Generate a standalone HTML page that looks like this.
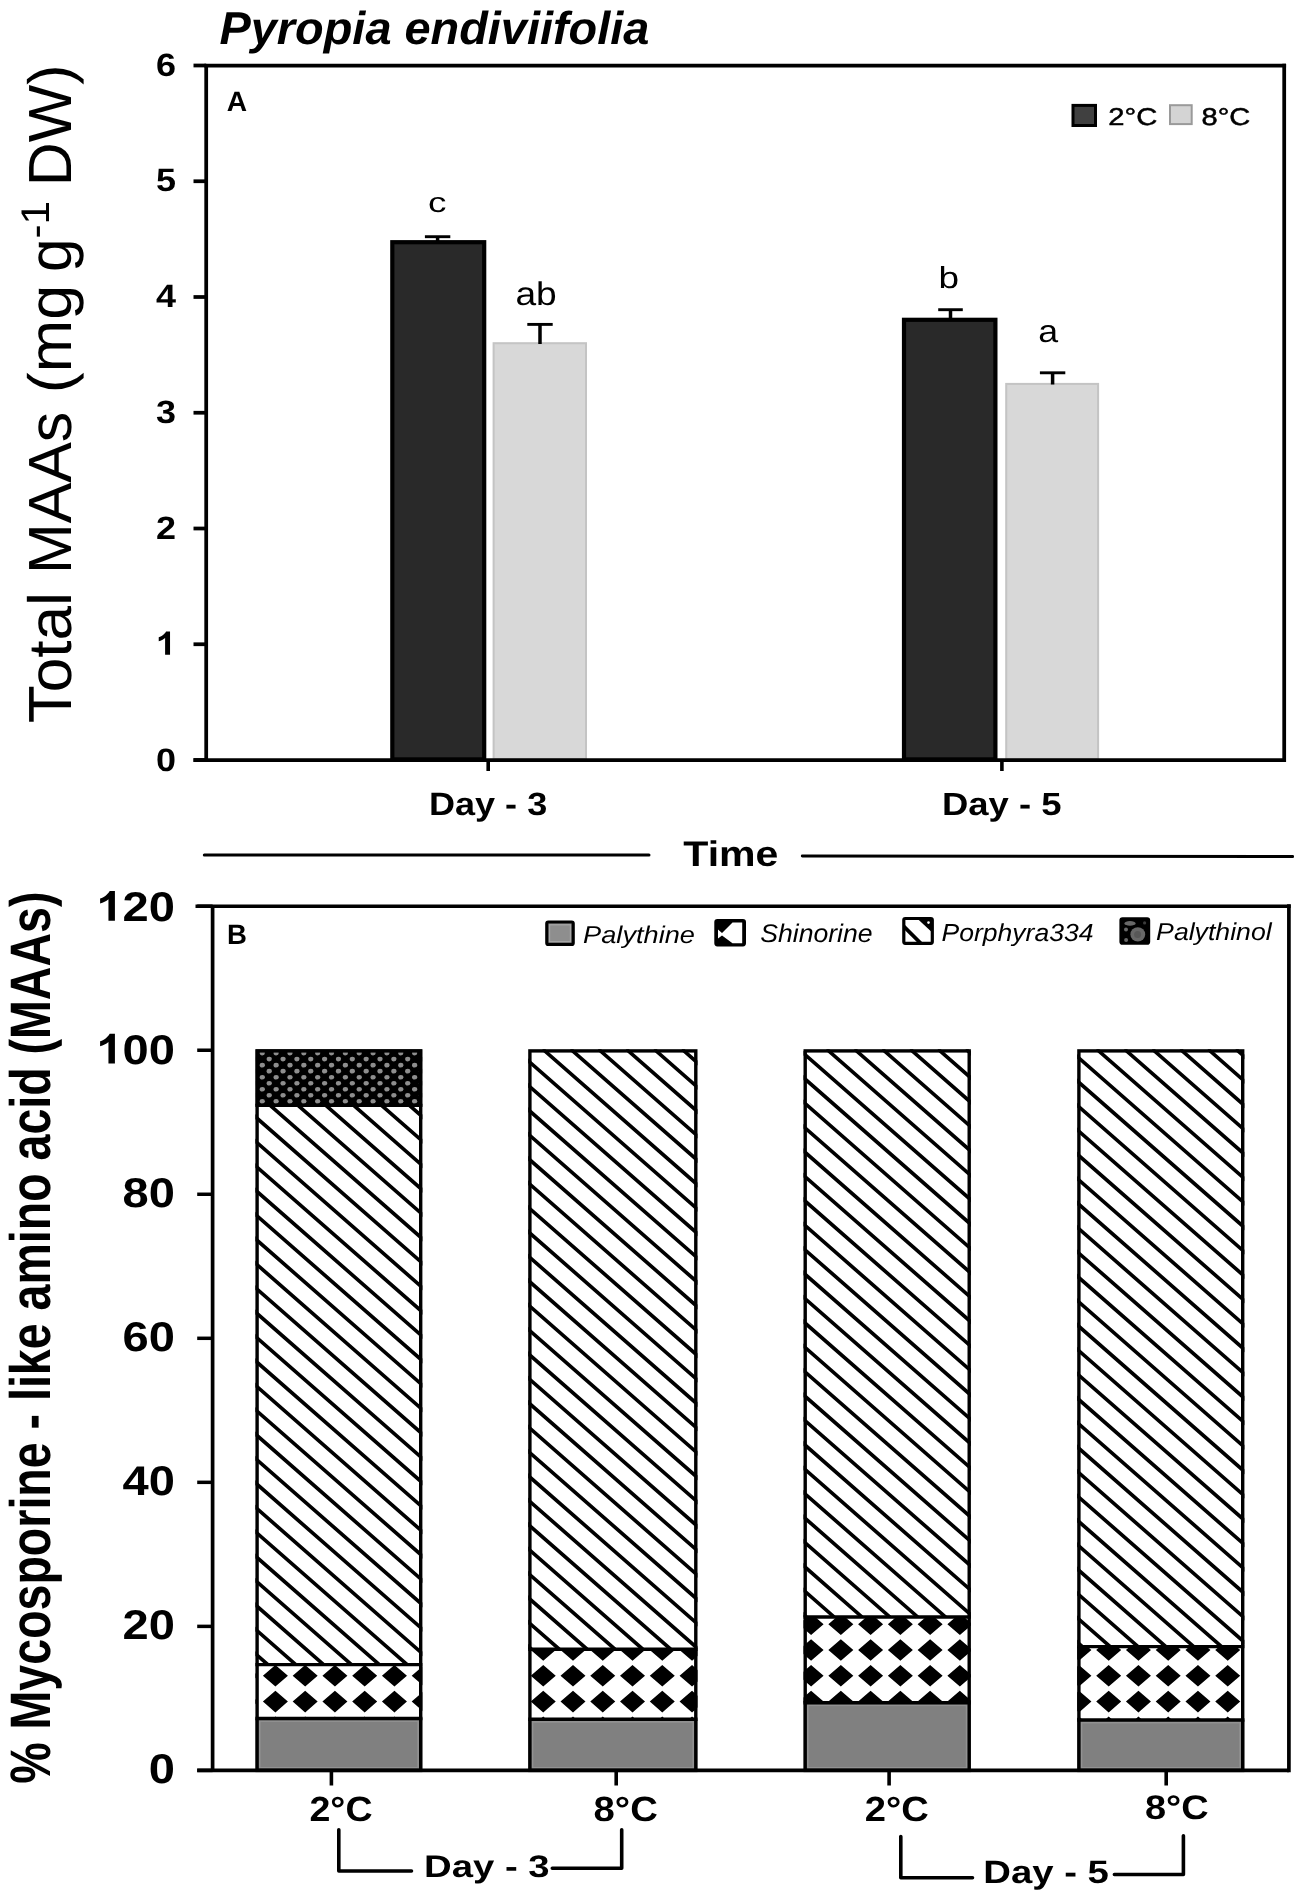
<!DOCTYPE html>
<html><head><meta charset="utf-8"><title>Pyropia endiviifolia MAAs</title>
<style>html,body{margin:0;padding:0;background:#fff;overflow:hidden;}svg{display:block;filter:blur(0.4px);}text{text-rendering:geometricPrecision;}</style></head>
<body><svg width="1299" height="1898" viewBox="0 0 1299 1898">
<defs><clipPath id="c1"><rect x="255.40" y="1664.60" width="167.00" height="53.90"/></clipPath><clipPath id="c2"><rect x="255.40" y="1105.40" width="167.00" height="559.20"/></clipPath><clipPath id="c3"><rect x="255.40" y="1049.20" width="167.00" height="56.20"/></clipPath><clipPath id="c4"><rect x="528.20" y="1649.20" width="169.30" height="70.10"/></clipPath><clipPath id="c5"><rect x="528.20" y="1049.20" width="169.30" height="600.00"/></clipPath><clipPath id="c6"><rect x="803.50" y="1617.00" width="167.40" height="85.70"/></clipPath><clipPath id="c7"><rect x="803.50" y="1049.20" width="167.40" height="567.80"/></clipPath><clipPath id="c8"><rect x="1077.20" y="1646.60" width="167.20" height="73.40"/></clipPath><clipPath id="c9"><rect x="1077.20" y="1049.20" width="167.20" height="597.40"/></clipPath></defs>
<rect width="1299" height="1898" fill="#fff"/>
<text transform="translate(70.58,723.29) rotate(-90)" font-family="&quot;Liberation Sans&quot;, sans-serif" font-size="60.96" textLength="131.01" lengthAdjust="spacingAndGlyphs">Total</text>
<text transform="translate(70.58,574.01) rotate(-90)" font-family="&quot;Liberation Sans&quot;, sans-serif" font-size="60.96" textLength="162.19" lengthAdjust="spacingAndGlyphs">MAAs</text>
<text transform="translate(70.58,393.28) rotate(-90)" font-family="&quot;Liberation Sans&quot;, sans-serif" font-size="60.96" textLength="108.55" lengthAdjust="spacingAndGlyphs">(mg</text>
<text transform="translate(70.58,272.05) rotate(-90)" font-family="&quot;Liberation Sans&quot;, sans-serif" font-size="60.96" textLength="33.66" lengthAdjust="spacingAndGlyphs">g</text>
<text transform="translate(49.48,238.55) rotate(-90)" font-family="&quot;Liberation Sans&quot;, sans-serif" font-size="40.00" textLength="37.54" lengthAdjust="spacingAndGlyphs">-1</text>
<text transform="translate(70.58,186.17) rotate(-90)" font-family="&quot;Liberation Sans&quot;, sans-serif" font-size="60.96" textLength="121.83" lengthAdjust="spacingAndGlyphs">DW)</text>
<rect x="392.30" y="242.20" width="91.90" height="517.20" fill="#292929" stroke="#000" stroke-width="4.2" />
<rect x="493.60" y="343.20" width="92.40" height="415.80" fill="#d8d8d8" stroke="#c4c4c4" stroke-width="2" />
<rect x="904.00" y="319.80" width="91.40" height="439.60" fill="#292929" stroke="#000" stroke-width="4.2" />
<rect x="1006.20" y="383.90" width="91.90" height="375.10" fill="#d8d8d8" stroke="#c4c4c4" stroke-width="2" />
<line x1="424.90" y1="236.70" x2="450.30" y2="236.70" stroke="#000" stroke-width="2.9" stroke-linecap="butt"/>
<line x1="437.60" y1="236.70" x2="437.60" y2="241.10" stroke="#000" stroke-width="3.5" stroke-linecap="butt"/>
<line x1="527.30" y1="324.40" x2="552.70" y2="324.40" stroke="#000" stroke-width="2.9" stroke-linecap="butt"/>
<line x1="540.00" y1="324.40" x2="540.00" y2="344.00" stroke="#000" stroke-width="3.5" stroke-linecap="butt"/>
<line x1="938.20" y1="309.70" x2="962.80" y2="309.70" stroke="#000" stroke-width="2.9" stroke-linecap="butt"/>
<line x1="950.50" y1="309.70" x2="950.50" y2="318.70" stroke="#000" stroke-width="3.5" stroke-linecap="butt"/>
<line x1="1039.90" y1="372.80" x2="1065.30" y2="372.80" stroke="#000" stroke-width="2.9" stroke-linecap="butt"/>
<line x1="1052.60" y1="372.80" x2="1052.60" y2="384.50" stroke="#000" stroke-width="3.5" stroke-linecap="butt"/>
<line x1="206.20" y1="65.50" x2="1284.20" y2="65.50" stroke="#000" stroke-width="3.75" stroke-linecap="square"/>
<line x1="1284.20" y1="65.50" x2="1284.20" y2="760.00" stroke="#000" stroke-width="3.75" stroke-linecap="square"/>
<line x1="193.50" y1="760.00" x2="1284.20" y2="760.00" stroke="#000" stroke-width="3.75" stroke-linecap="butt"/>
<line x1="206.20" y1="65.50" x2="206.20" y2="760.00" stroke="#000" stroke-width="3.75" stroke-linecap="butt"/>
<line x1="193.50" y1="760.00" x2="206.20" y2="760.00" stroke="#000" stroke-width="3.75" stroke-linecap="butt"/>
<text x="155.90" y="770.70" font-family="&quot;Liberation Sans&quot;, sans-serif" font-size="32.40" font-weight="bold" textLength="20.00" lengthAdjust="spacingAndGlyphs">0</text>
<line x1="193.50" y1="644.25" x2="206.20" y2="644.25" stroke="#000" stroke-width="3.75" stroke-linecap="butt"/>
<path d="M805 0H524V1059C420 962 300 890 161 846V1101C271 1137 340 1180 400 1237C480 1310 545 1390 577 1466H805Z" transform="translate(155.90,654.65) scale(0.01756,-0.01582)"/>
<line x1="193.50" y1="528.50" x2="206.20" y2="528.50" stroke="#000" stroke-width="3.75" stroke-linecap="butt"/>
<text x="155.90" y="538.90" font-family="&quot;Liberation Sans&quot;, sans-serif" font-size="32.40" font-weight="bold" textLength="20.00" lengthAdjust="spacingAndGlyphs">2</text>
<line x1="193.50" y1="412.75" x2="206.20" y2="412.75" stroke="#000" stroke-width="3.75" stroke-linecap="butt"/>
<text x="155.90" y="423.15" font-family="&quot;Liberation Sans&quot;, sans-serif" font-size="32.40" font-weight="bold" textLength="20.00" lengthAdjust="spacingAndGlyphs">3</text>
<line x1="193.50" y1="297.00" x2="206.20" y2="297.00" stroke="#000" stroke-width="3.75" stroke-linecap="butt"/>
<text x="155.90" y="306.90" font-family="&quot;Liberation Sans&quot;, sans-serif" font-size="32.40" font-weight="bold" textLength="20.00" lengthAdjust="spacingAndGlyphs">4</text>
<line x1="193.50" y1="181.25" x2="206.20" y2="181.25" stroke="#000" stroke-width="3.75" stroke-linecap="butt"/>
<text x="155.90" y="190.70" font-family="&quot;Liberation Sans&quot;, sans-serif" font-size="32.40" font-weight="bold" textLength="20.00" lengthAdjust="spacingAndGlyphs">5</text>
<line x1="193.50" y1="65.50" x2="206.20" y2="65.50" stroke="#000" stroke-width="3.75" stroke-linecap="butt"/>
<text x="155.90" y="76.40" font-family="&quot;Liberation Sans&quot;, sans-serif" font-size="32.40" font-weight="bold" textLength="20.00" lengthAdjust="spacingAndGlyphs">6</text>
<line x1="488.20" y1="760.00" x2="488.20" y2="771.00" stroke="#000" stroke-width="3.6" stroke-linecap="butt"/>
<line x1="1001.90" y1="760.00" x2="1001.90" y2="771.00" stroke="#000" stroke-width="3.6" stroke-linecap="butt"/>
<text id="t_title" x="219.56" y="43.88" font-family="&quot;Liberation Sans&quot;, sans-serif" font-size="46.09" font-weight="bold" font-style="italic" xml:space="preserve" textLength="429.74" lengthAdjust="spacingAndGlyphs">Pyropia endiviifolia</text>
<text id="t_A" x="226.71" y="110.62" font-family="&quot;Liberation Sans&quot;, sans-serif" font-size="28.05" font-weight="bold" font-style="normal" xml:space="preserve" textLength="20.36" lengthAdjust="spacingAndGlyphs">A</text>
<text id="t_c" x="427.91" y="212.07" font-family="&quot;Liberation Sans&quot;, sans-serif" font-size="28.03" font-weight="normal" font-style="normal" xml:space="preserve" textLength="18.46" lengthAdjust="spacingAndGlyphs">c</text>
<text id="t_ab" x="515.47" y="305.47" font-family="&quot;Liberation Sans&quot;, sans-serif" font-size="32.91" font-weight="normal" font-style="normal" xml:space="preserve" textLength="41.29" lengthAdjust="spacingAndGlyphs">ab</text>
<text id="t_b" x="938.52" y="288.42" font-family="&quot;Liberation Sans&quot;, sans-serif" font-size="30.45" font-weight="normal" font-style="normal" xml:space="preserve" textLength="20.52" lengthAdjust="spacingAndGlyphs">b</text>
<text id="t_a" x="1038.30" y="342.37" font-family="&quot;Liberation Sans&quot;, sans-serif" font-size="31.62" font-weight="normal" font-style="normal" xml:space="preserve" textLength="19.88" lengthAdjust="spacingAndGlyphs">a</text>
<text id="t_l2C" x="1108.36" y="124.64" font-family="&quot;Liberation Sans&quot;, sans-serif" font-size="24.24" font-weight="normal" font-style="normal" xml:space="preserve" textLength="48.99" lengthAdjust="spacingAndGlyphs" stroke="#000" stroke-width="0.5">2°C</text>
<text id="t_l8C" x="1201.54" y="124.64" font-family="&quot;Liberation Sans&quot;, sans-serif" font-size="24.24" font-weight="normal" font-style="normal" xml:space="preserve" textLength="48.77" lengthAdjust="spacingAndGlyphs" stroke="#000" stroke-width="0.5">8°C</text>
<text id="t_day3" x="428.94" y="814.92" font-family="&quot;Liberation Sans&quot;, sans-serif" font-size="32.18" font-weight="bold" font-style="normal" xml:space="preserve" textLength="118.26" lengthAdjust="spacingAndGlyphs">Day - 3</text>
<text id="t_day5" x="942.02" y="814.93" font-family="&quot;Liberation Sans&quot;, sans-serif" font-size="32.14" font-weight="bold" font-style="normal" xml:space="preserve" textLength="119.51" lengthAdjust="spacingAndGlyphs">Day - 5</text>
<text id="t_time" x="683.29" y="865.56" font-family="&quot;Liberation Sans&quot;, sans-serif" font-size="35.70" font-weight="bold" font-style="normal" xml:space="preserve" textLength="95.20" lengthAdjust="spacingAndGlyphs">Time</text>
<rect x="1073.00" y="105.40" width="22.50" height="20.10" fill="#404040" stroke="#000" stroke-width="3" />
<rect x="1170.00" y="105.20" width="21.70" height="18.90" fill="#d4d4d4" stroke="#9a9a9a" stroke-width="2" />
<line x1="204.30" y1="855.00" x2="649.00" y2="855.00" stroke="#000" stroke-width="3.0" stroke-linecap="round"/>
<line x1="802.30" y1="856.00" x2="1292.60" y2="856.50" stroke="#000" stroke-width="3.0" stroke-linecap="round"/>
<rect x="255.40" y="1718.50" width="167.00" height="51.90" fill="#808080" stroke="none" stroke-width="0" />
<rect x="259.70" y="1721.10" width="158.40" height="46.70" fill="none" stroke="#929292" stroke-width="1.6" />
<g clip-path="url(#c1)"><rect x="255.40" y="1664.60" width="167.00" height="53.90" fill="#fff"/><path d="M203.38 1650.00L215.88 1639.20L228.38 1650.00L215.88 1660.80ZM203.38 1675.80L215.88 1665.00L228.38 1675.80L215.88 1686.60ZM203.38 1701.60L215.88 1690.80L228.38 1701.60L215.88 1712.40ZM203.38 1727.40L215.88 1716.60L228.38 1727.40L215.88 1738.20ZM203.38 1753.20L215.88 1742.40L228.38 1753.20L215.88 1764.00ZM233.14 1650.00L245.64 1639.20L258.14 1650.00L245.64 1660.80ZM233.14 1675.80L245.64 1665.00L258.14 1675.80L245.64 1686.60ZM233.14 1701.60L245.64 1690.80L258.14 1701.60L245.64 1712.40ZM233.14 1727.40L245.64 1716.60L258.14 1727.40L245.64 1738.20ZM233.14 1753.20L245.64 1742.40L258.14 1753.20L245.64 1764.00ZM262.90 1650.00L275.40 1639.20L287.90 1650.00L275.40 1660.80ZM262.90 1675.80L275.40 1665.00L287.90 1675.80L275.40 1686.60ZM262.90 1701.60L275.40 1690.80L287.90 1701.60L275.40 1712.40ZM262.90 1727.40L275.40 1716.60L287.90 1727.40L275.40 1738.20ZM262.90 1753.20L275.40 1742.40L287.90 1753.20L275.40 1764.00ZM292.66 1650.00L305.16 1639.20L317.66 1650.00L305.16 1660.80ZM292.66 1675.80L305.16 1665.00L317.66 1675.80L305.16 1686.60ZM292.66 1701.60L305.16 1690.80L317.66 1701.60L305.16 1712.40ZM292.66 1727.40L305.16 1716.60L317.66 1727.40L305.16 1738.20ZM292.66 1753.20L305.16 1742.40L317.66 1753.20L305.16 1764.00ZM322.42 1650.00L334.92 1639.20L347.42 1650.00L334.92 1660.80ZM322.42 1675.80L334.92 1665.00L347.42 1675.80L334.92 1686.60ZM322.42 1701.60L334.92 1690.80L347.42 1701.60L334.92 1712.40ZM322.42 1727.40L334.92 1716.60L347.42 1727.40L334.92 1738.20ZM322.42 1753.20L334.92 1742.40L347.42 1753.20L334.92 1764.00ZM352.18 1650.00L364.68 1639.20L377.18 1650.00L364.68 1660.80ZM352.18 1675.80L364.68 1665.00L377.18 1675.80L364.68 1686.60ZM352.18 1701.60L364.68 1690.80L377.18 1701.60L364.68 1712.40ZM352.18 1727.40L364.68 1716.60L377.18 1727.40L364.68 1738.20ZM352.18 1753.20L364.68 1742.40L377.18 1753.20L364.68 1764.00ZM381.94 1650.00L394.44 1639.20L406.94 1650.00L394.44 1660.80ZM381.94 1675.80L394.44 1665.00L406.94 1675.80L394.44 1686.60ZM381.94 1701.60L394.44 1690.80L406.94 1701.60L394.44 1712.40ZM381.94 1727.40L394.44 1716.60L406.94 1727.40L394.44 1738.20ZM381.94 1753.20L394.44 1742.40L406.94 1753.20L394.44 1764.00ZM411.70 1650.00L424.20 1639.20L436.70 1650.00L424.20 1660.80ZM411.70 1675.80L424.20 1665.00L436.70 1675.80L424.20 1686.60ZM411.70 1701.60L424.20 1690.80L436.70 1701.60L424.20 1712.40ZM411.70 1727.40L424.20 1716.60L436.70 1727.40L424.20 1738.20ZM411.70 1753.20L424.20 1742.40L436.70 1753.20L424.20 1764.00ZM441.46 1650.00L453.96 1639.20L466.46 1650.00L453.96 1660.80ZM441.46 1675.80L453.96 1665.00L466.46 1675.80L453.96 1686.60ZM441.46 1701.60L453.96 1690.80L466.46 1701.60L453.96 1712.40ZM441.46 1727.40L453.96 1716.60L466.46 1727.40L453.96 1738.20ZM441.46 1753.20L453.96 1742.40L466.46 1753.20L453.96 1764.00Z" fill="#000"/></g>
<g clip-path="url(#c2)"><rect x="255.40" y="1105.40" width="167.00" height="559.20" fill="#fff"/><path d="M-426.08 1105.40L212.19 1664.60M-398.23 1105.40L240.04 1664.60M-370.38 1105.40L267.89 1664.60M-342.53 1105.40L295.74 1664.60M-314.68 1105.40L323.59 1664.60M-286.83 1105.40L351.44 1664.60M-258.98 1105.40L379.29 1664.60M-231.13 1105.40L407.14 1664.60M-203.28 1105.40L434.99 1664.60M-175.43 1105.40L462.84 1664.60M-147.58 1105.40L490.69 1664.60M-119.73 1105.40L518.54 1664.60M-91.88 1105.40L546.39 1664.60M-64.03 1105.40L574.24 1664.60M-36.18 1105.40L602.09 1664.60M-8.33 1105.40L629.94 1664.60M19.52 1105.40L657.79 1664.60M47.37 1105.40L685.64 1664.60M75.22 1105.40L713.49 1664.60M103.07 1105.40L741.34 1664.60M130.92 1105.40L769.19 1664.60M158.77 1105.40L797.04 1664.60M186.62 1105.40L824.89 1664.60M214.47 1105.40L852.74 1664.60M242.32 1105.40L880.59 1664.60M270.17 1105.40L908.44 1664.60M298.02 1105.40L936.29 1664.60M325.87 1105.40L964.14 1664.60M353.72 1105.40L991.99 1664.60M381.57 1105.40L1019.84 1664.60M409.42 1105.40L1047.69 1664.60M437.27 1105.40L1075.54 1664.60M465.12 1105.40L1103.39 1664.60" stroke="#000" stroke-width="3.65" fill="none"/></g>
<g clip-path="url(#c3)"><rect x="255.40" y="1049.20" width="167.00" height="56.20" fill="#000"/><g fill="#8e8e8e"><ellipse cx="248.45" cy="1041.05" rx="2.6" ry="2.3"/><ellipse cx="262.30" cy="1041.05" rx="2.6" ry="2.3"/><ellipse cx="276.15" cy="1041.05" rx="2.6" ry="2.3"/><ellipse cx="290.00" cy="1041.05" rx="2.6" ry="2.3"/><ellipse cx="303.85" cy="1041.05" rx="2.6" ry="2.3"/><ellipse cx="317.70" cy="1041.05" rx="2.6" ry="2.3"/><ellipse cx="331.55" cy="1041.05" rx="2.6" ry="2.3"/><ellipse cx="345.40" cy="1041.05" rx="2.6" ry="2.3"/><ellipse cx="359.25" cy="1041.05" rx="2.6" ry="2.3"/><ellipse cx="373.10" cy="1041.05" rx="2.6" ry="2.3"/><ellipse cx="386.95" cy="1041.05" rx="2.6" ry="2.3"/><ellipse cx="400.80" cy="1041.05" rx="2.6" ry="2.3"/><ellipse cx="414.65" cy="1041.05" rx="2.6" ry="2.3"/><ellipse cx="428.50" cy="1041.05" rx="2.6" ry="2.3"/><ellipse cx="241.53" cy="1047.07" rx="2.6" ry="2.3"/><ellipse cx="255.38" cy="1047.07" rx="2.6" ry="2.3"/><ellipse cx="269.23" cy="1047.07" rx="2.6" ry="2.3"/><ellipse cx="283.08" cy="1047.07" rx="2.6" ry="2.3"/><ellipse cx="296.93" cy="1047.07" rx="2.6" ry="2.3"/><ellipse cx="310.78" cy="1047.07" rx="2.6" ry="2.3"/><ellipse cx="324.62" cy="1047.07" rx="2.6" ry="2.3"/><ellipse cx="338.48" cy="1047.07" rx="2.6" ry="2.3"/><ellipse cx="352.33" cy="1047.07" rx="2.6" ry="2.3"/><ellipse cx="366.18" cy="1047.07" rx="2.6" ry="2.3"/><ellipse cx="380.03" cy="1047.07" rx="2.6" ry="2.3"/><ellipse cx="393.88" cy="1047.07" rx="2.6" ry="2.3"/><ellipse cx="407.73" cy="1047.07" rx="2.6" ry="2.3"/><ellipse cx="421.58" cy="1047.07" rx="2.6" ry="2.3"/><ellipse cx="435.43" cy="1047.07" rx="2.6" ry="2.3"/><ellipse cx="248.45" cy="1053.10" rx="2.6" ry="2.3"/><ellipse cx="262.30" cy="1053.10" rx="2.6" ry="2.3"/><ellipse cx="276.15" cy="1053.10" rx="2.6" ry="2.3"/><ellipse cx="290.00" cy="1053.10" rx="2.6" ry="2.3"/><ellipse cx="303.85" cy="1053.10" rx="2.6" ry="2.3"/><ellipse cx="317.70" cy="1053.10" rx="2.6" ry="2.3"/><ellipse cx="331.55" cy="1053.10" rx="2.6" ry="2.3"/><ellipse cx="345.40" cy="1053.10" rx="2.6" ry="2.3"/><ellipse cx="359.25" cy="1053.10" rx="2.6" ry="2.3"/><ellipse cx="373.10" cy="1053.10" rx="2.6" ry="2.3"/><ellipse cx="386.95" cy="1053.10" rx="2.6" ry="2.3"/><ellipse cx="400.80" cy="1053.10" rx="2.6" ry="2.3"/><ellipse cx="414.65" cy="1053.10" rx="2.6" ry="2.3"/><ellipse cx="428.50" cy="1053.10" rx="2.6" ry="2.3"/><ellipse cx="241.53" cy="1059.12" rx="2.6" ry="2.3"/><ellipse cx="255.38" cy="1059.12" rx="2.6" ry="2.3"/><ellipse cx="269.23" cy="1059.12" rx="2.6" ry="2.3"/><ellipse cx="283.08" cy="1059.12" rx="2.6" ry="2.3"/><ellipse cx="296.93" cy="1059.12" rx="2.6" ry="2.3"/><ellipse cx="310.78" cy="1059.12" rx="2.6" ry="2.3"/><ellipse cx="324.62" cy="1059.12" rx="2.6" ry="2.3"/><ellipse cx="338.48" cy="1059.12" rx="2.6" ry="2.3"/><ellipse cx="352.33" cy="1059.12" rx="2.6" ry="2.3"/><ellipse cx="366.18" cy="1059.12" rx="2.6" ry="2.3"/><ellipse cx="380.03" cy="1059.12" rx="2.6" ry="2.3"/><ellipse cx="393.88" cy="1059.12" rx="2.6" ry="2.3"/><ellipse cx="407.73" cy="1059.12" rx="2.6" ry="2.3"/><ellipse cx="421.58" cy="1059.12" rx="2.6" ry="2.3"/><ellipse cx="435.43" cy="1059.12" rx="2.6" ry="2.3"/><ellipse cx="248.45" cy="1065.15" rx="2.6" ry="2.3"/><ellipse cx="262.30" cy="1065.15" rx="2.6" ry="2.3"/><ellipse cx="276.15" cy="1065.15" rx="2.6" ry="2.3"/><ellipse cx="290.00" cy="1065.15" rx="2.6" ry="2.3"/><ellipse cx="303.85" cy="1065.15" rx="2.6" ry="2.3"/><ellipse cx="317.70" cy="1065.15" rx="2.6" ry="2.3"/><ellipse cx="331.55" cy="1065.15" rx="2.6" ry="2.3"/><ellipse cx="345.40" cy="1065.15" rx="2.6" ry="2.3"/><ellipse cx="359.25" cy="1065.15" rx="2.6" ry="2.3"/><ellipse cx="373.10" cy="1065.15" rx="2.6" ry="2.3"/><ellipse cx="386.95" cy="1065.15" rx="2.6" ry="2.3"/><ellipse cx="400.80" cy="1065.15" rx="2.6" ry="2.3"/><ellipse cx="414.65" cy="1065.15" rx="2.6" ry="2.3"/><ellipse cx="428.50" cy="1065.15" rx="2.6" ry="2.3"/><ellipse cx="241.53" cy="1071.17" rx="2.6" ry="2.3"/><ellipse cx="255.38" cy="1071.17" rx="2.6" ry="2.3"/><ellipse cx="269.23" cy="1071.17" rx="2.6" ry="2.3"/><ellipse cx="283.08" cy="1071.17" rx="2.6" ry="2.3"/><ellipse cx="296.93" cy="1071.17" rx="2.6" ry="2.3"/><ellipse cx="310.78" cy="1071.17" rx="2.6" ry="2.3"/><ellipse cx="324.62" cy="1071.17" rx="2.6" ry="2.3"/><ellipse cx="338.48" cy="1071.17" rx="2.6" ry="2.3"/><ellipse cx="352.33" cy="1071.17" rx="2.6" ry="2.3"/><ellipse cx="366.18" cy="1071.17" rx="2.6" ry="2.3"/><ellipse cx="380.03" cy="1071.17" rx="2.6" ry="2.3"/><ellipse cx="393.88" cy="1071.17" rx="2.6" ry="2.3"/><ellipse cx="407.73" cy="1071.17" rx="2.6" ry="2.3"/><ellipse cx="421.58" cy="1071.17" rx="2.6" ry="2.3"/><ellipse cx="435.43" cy="1071.17" rx="2.6" ry="2.3"/><ellipse cx="248.45" cy="1077.20" rx="2.6" ry="2.3"/><ellipse cx="262.30" cy="1077.20" rx="2.6" ry="2.3"/><ellipse cx="276.15" cy="1077.20" rx="2.6" ry="2.3"/><ellipse cx="290.00" cy="1077.20" rx="2.6" ry="2.3"/><ellipse cx="303.85" cy="1077.20" rx="2.6" ry="2.3"/><ellipse cx="317.70" cy="1077.20" rx="2.6" ry="2.3"/><ellipse cx="331.55" cy="1077.20" rx="2.6" ry="2.3"/><ellipse cx="345.40" cy="1077.20" rx="2.6" ry="2.3"/><ellipse cx="359.25" cy="1077.20" rx="2.6" ry="2.3"/><ellipse cx="373.10" cy="1077.20" rx="2.6" ry="2.3"/><ellipse cx="386.95" cy="1077.20" rx="2.6" ry="2.3"/><ellipse cx="400.80" cy="1077.20" rx="2.6" ry="2.3"/><ellipse cx="414.65" cy="1077.20" rx="2.6" ry="2.3"/><ellipse cx="428.50" cy="1077.20" rx="2.6" ry="2.3"/><ellipse cx="241.53" cy="1083.22" rx="2.6" ry="2.3"/><ellipse cx="255.38" cy="1083.22" rx="2.6" ry="2.3"/><ellipse cx="269.23" cy="1083.22" rx="2.6" ry="2.3"/><ellipse cx="283.08" cy="1083.22" rx="2.6" ry="2.3"/><ellipse cx="296.93" cy="1083.22" rx="2.6" ry="2.3"/><ellipse cx="310.78" cy="1083.22" rx="2.6" ry="2.3"/><ellipse cx="324.62" cy="1083.22" rx="2.6" ry="2.3"/><ellipse cx="338.48" cy="1083.22" rx="2.6" ry="2.3"/><ellipse cx="352.33" cy="1083.22" rx="2.6" ry="2.3"/><ellipse cx="366.18" cy="1083.22" rx="2.6" ry="2.3"/><ellipse cx="380.03" cy="1083.22" rx="2.6" ry="2.3"/><ellipse cx="393.88" cy="1083.22" rx="2.6" ry="2.3"/><ellipse cx="407.73" cy="1083.22" rx="2.6" ry="2.3"/><ellipse cx="421.58" cy="1083.22" rx="2.6" ry="2.3"/><ellipse cx="435.43" cy="1083.22" rx="2.6" ry="2.3"/><ellipse cx="248.45" cy="1089.25" rx="2.6" ry="2.3"/><ellipse cx="262.30" cy="1089.25" rx="2.6" ry="2.3"/><ellipse cx="276.15" cy="1089.25" rx="2.6" ry="2.3"/><ellipse cx="290.00" cy="1089.25" rx="2.6" ry="2.3"/><ellipse cx="303.85" cy="1089.25" rx="2.6" ry="2.3"/><ellipse cx="317.70" cy="1089.25" rx="2.6" ry="2.3"/><ellipse cx="331.55" cy="1089.25" rx="2.6" ry="2.3"/><ellipse cx="345.40" cy="1089.25" rx="2.6" ry="2.3"/><ellipse cx="359.25" cy="1089.25" rx="2.6" ry="2.3"/><ellipse cx="373.10" cy="1089.25" rx="2.6" ry="2.3"/><ellipse cx="386.95" cy="1089.25" rx="2.6" ry="2.3"/><ellipse cx="400.80" cy="1089.25" rx="2.6" ry="2.3"/><ellipse cx="414.65" cy="1089.25" rx="2.6" ry="2.3"/><ellipse cx="428.50" cy="1089.25" rx="2.6" ry="2.3"/><ellipse cx="241.53" cy="1095.27" rx="2.6" ry="2.3"/><ellipse cx="255.38" cy="1095.27" rx="2.6" ry="2.3"/><ellipse cx="269.23" cy="1095.27" rx="2.6" ry="2.3"/><ellipse cx="283.08" cy="1095.27" rx="2.6" ry="2.3"/><ellipse cx="296.93" cy="1095.27" rx="2.6" ry="2.3"/><ellipse cx="310.78" cy="1095.27" rx="2.6" ry="2.3"/><ellipse cx="324.62" cy="1095.27" rx="2.6" ry="2.3"/><ellipse cx="338.48" cy="1095.27" rx="2.6" ry="2.3"/><ellipse cx="352.33" cy="1095.27" rx="2.6" ry="2.3"/><ellipse cx="366.18" cy="1095.27" rx="2.6" ry="2.3"/><ellipse cx="380.03" cy="1095.27" rx="2.6" ry="2.3"/><ellipse cx="393.88" cy="1095.27" rx="2.6" ry="2.3"/><ellipse cx="407.73" cy="1095.27" rx="2.6" ry="2.3"/><ellipse cx="421.58" cy="1095.27" rx="2.6" ry="2.3"/><ellipse cx="435.43" cy="1095.27" rx="2.6" ry="2.3"/><ellipse cx="248.45" cy="1101.30" rx="2.6" ry="2.3"/><ellipse cx="262.30" cy="1101.30" rx="2.6" ry="2.3"/><ellipse cx="276.15" cy="1101.30" rx="2.6" ry="2.3"/><ellipse cx="290.00" cy="1101.30" rx="2.6" ry="2.3"/><ellipse cx="303.85" cy="1101.30" rx="2.6" ry="2.3"/><ellipse cx="317.70" cy="1101.30" rx="2.6" ry="2.3"/><ellipse cx="331.55" cy="1101.30" rx="2.6" ry="2.3"/><ellipse cx="345.40" cy="1101.30" rx="2.6" ry="2.3"/><ellipse cx="359.25" cy="1101.30" rx="2.6" ry="2.3"/><ellipse cx="373.10" cy="1101.30" rx="2.6" ry="2.3"/><ellipse cx="386.95" cy="1101.30" rx="2.6" ry="2.3"/><ellipse cx="400.80" cy="1101.30" rx="2.6" ry="2.3"/><ellipse cx="414.65" cy="1101.30" rx="2.6" ry="2.3"/><ellipse cx="428.50" cy="1101.30" rx="2.6" ry="2.3"/><ellipse cx="241.53" cy="1107.32" rx="2.6" ry="2.3"/><ellipse cx="255.38" cy="1107.32" rx="2.6" ry="2.3"/><ellipse cx="269.23" cy="1107.32" rx="2.6" ry="2.3"/><ellipse cx="283.08" cy="1107.32" rx="2.6" ry="2.3"/><ellipse cx="296.93" cy="1107.32" rx="2.6" ry="2.3"/><ellipse cx="310.78" cy="1107.32" rx="2.6" ry="2.3"/><ellipse cx="324.62" cy="1107.32" rx="2.6" ry="2.3"/><ellipse cx="338.48" cy="1107.32" rx="2.6" ry="2.3"/><ellipse cx="352.33" cy="1107.32" rx="2.6" ry="2.3"/><ellipse cx="366.18" cy="1107.32" rx="2.6" ry="2.3"/><ellipse cx="380.03" cy="1107.32" rx="2.6" ry="2.3"/><ellipse cx="393.88" cy="1107.32" rx="2.6" ry="2.3"/><ellipse cx="407.73" cy="1107.32" rx="2.6" ry="2.3"/><ellipse cx="421.58" cy="1107.32" rx="2.6" ry="2.3"/><ellipse cx="435.43" cy="1107.32" rx="2.6" ry="2.3"/><ellipse cx="248.45" cy="1113.35" rx="2.6" ry="2.3"/><ellipse cx="262.30" cy="1113.35" rx="2.6" ry="2.3"/><ellipse cx="276.15" cy="1113.35" rx="2.6" ry="2.3"/><ellipse cx="290.00" cy="1113.35" rx="2.6" ry="2.3"/><ellipse cx="303.85" cy="1113.35" rx="2.6" ry="2.3"/><ellipse cx="317.70" cy="1113.35" rx="2.6" ry="2.3"/><ellipse cx="331.55" cy="1113.35" rx="2.6" ry="2.3"/><ellipse cx="345.40" cy="1113.35" rx="2.6" ry="2.3"/><ellipse cx="359.25" cy="1113.35" rx="2.6" ry="2.3"/><ellipse cx="373.10" cy="1113.35" rx="2.6" ry="2.3"/><ellipse cx="386.95" cy="1113.35" rx="2.6" ry="2.3"/><ellipse cx="400.80" cy="1113.35" rx="2.6" ry="2.3"/><ellipse cx="414.65" cy="1113.35" rx="2.6" ry="2.3"/><ellipse cx="428.50" cy="1113.35" rx="2.6" ry="2.3"/></g></g>
<line x1="255.40" y1="1718.50" x2="422.40" y2="1718.50" stroke="#000" stroke-width="3.4" stroke-linecap="butt"/>
<line x1="255.40" y1="1664.60" x2="422.40" y2="1664.60" stroke="#000" stroke-width="3.4" stroke-linecap="butt"/>
<line x1="255.40" y1="1105.40" x2="422.40" y2="1105.40" stroke="#000" stroke-width="3.4" stroke-linecap="butt"/>
<rect x="257.10" y="1050.90" width="163.60" height="719.50" fill="none" stroke="#000" stroke-width="3.4" />
<rect x="528.20" y="1719.30" width="169.30" height="51.10" fill="#808080" stroke="none" stroke-width="0" />
<rect x="532.50" y="1721.90" width="160.70" height="45.90" fill="none" stroke="#929292" stroke-width="1.6" />
<g clip-path="url(#c4)"><rect x="528.20" y="1649.20" width="169.30" height="70.10" fill="#fff"/><path d="M500.98 1624.20L513.48 1613.40L525.98 1624.20L513.48 1635.00ZM500.98 1650.00L513.48 1639.20L525.98 1650.00L513.48 1660.80ZM500.98 1675.80L513.48 1665.00L525.98 1675.80L513.48 1686.60ZM500.98 1701.60L513.48 1690.80L525.98 1701.60L513.48 1712.40ZM500.98 1727.40L513.48 1716.60L525.98 1727.40L513.48 1738.20ZM500.98 1753.20L513.48 1742.40L525.98 1753.20L513.48 1764.00ZM530.74 1624.20L543.24 1613.40L555.74 1624.20L543.24 1635.00ZM530.74 1650.00L543.24 1639.20L555.74 1650.00L543.24 1660.80ZM530.74 1675.80L543.24 1665.00L555.74 1675.80L543.24 1686.60ZM530.74 1701.60L543.24 1690.80L555.74 1701.60L543.24 1712.40ZM530.74 1727.40L543.24 1716.60L555.74 1727.40L543.24 1738.20ZM530.74 1753.20L543.24 1742.40L555.74 1753.20L543.24 1764.00ZM560.50 1624.20L573.00 1613.40L585.50 1624.20L573.00 1635.00ZM560.50 1650.00L573.00 1639.20L585.50 1650.00L573.00 1660.80ZM560.50 1675.80L573.00 1665.00L585.50 1675.80L573.00 1686.60ZM560.50 1701.60L573.00 1690.80L585.50 1701.60L573.00 1712.40ZM560.50 1727.40L573.00 1716.60L585.50 1727.40L573.00 1738.20ZM560.50 1753.20L573.00 1742.40L585.50 1753.20L573.00 1764.00ZM590.26 1624.20L602.76 1613.40L615.26 1624.20L602.76 1635.00ZM590.26 1650.00L602.76 1639.20L615.26 1650.00L602.76 1660.80ZM590.26 1675.80L602.76 1665.00L615.26 1675.80L602.76 1686.60ZM590.26 1701.60L602.76 1690.80L615.26 1701.60L602.76 1712.40ZM590.26 1727.40L602.76 1716.60L615.26 1727.40L602.76 1738.20ZM590.26 1753.20L602.76 1742.40L615.26 1753.20L602.76 1764.00ZM620.02 1624.20L632.52 1613.40L645.02 1624.20L632.52 1635.00ZM620.02 1650.00L632.52 1639.20L645.02 1650.00L632.52 1660.80ZM620.02 1675.80L632.52 1665.00L645.02 1675.80L632.52 1686.60ZM620.02 1701.60L632.52 1690.80L645.02 1701.60L632.52 1712.40ZM620.02 1727.40L632.52 1716.60L645.02 1727.40L632.52 1738.20ZM620.02 1753.20L632.52 1742.40L645.02 1753.20L632.52 1764.00ZM649.78 1624.20L662.28 1613.40L674.78 1624.20L662.28 1635.00ZM649.78 1650.00L662.28 1639.20L674.78 1650.00L662.28 1660.80ZM649.78 1675.80L662.28 1665.00L674.78 1675.80L662.28 1686.60ZM649.78 1701.60L662.28 1690.80L674.78 1701.60L662.28 1712.40ZM649.78 1727.40L662.28 1716.60L674.78 1727.40L662.28 1738.20ZM649.78 1753.20L662.28 1742.40L674.78 1753.20L662.28 1764.00ZM679.54 1624.20L692.04 1613.40L704.54 1624.20L692.04 1635.00ZM679.54 1650.00L692.04 1639.20L704.54 1650.00L692.04 1660.80ZM679.54 1675.80L692.04 1665.00L704.54 1675.80L692.04 1686.60ZM679.54 1701.60L692.04 1690.80L704.54 1701.60L692.04 1712.40ZM679.54 1727.40L692.04 1716.60L704.54 1727.40L692.04 1738.20ZM679.54 1753.20L692.04 1742.40L704.54 1753.20L692.04 1764.00ZM709.30 1624.20L721.80 1613.40L734.30 1624.20L721.80 1635.00ZM709.30 1650.00L721.80 1639.20L734.30 1650.00L721.80 1660.80ZM709.30 1675.80L721.80 1665.00L734.30 1675.80L721.80 1686.60ZM709.30 1701.60L721.80 1690.80L734.30 1701.60L721.80 1712.40ZM709.30 1727.40L721.80 1716.60L734.30 1727.40L721.80 1738.20ZM709.30 1753.20L721.80 1742.40L734.30 1753.20L721.80 1764.00Z" fill="#000"/></g>
<g clip-path="url(#c5)"><rect x="528.20" y="1049.20" width="169.30" height="600.00" fill="#fff"/><path d="M-209.18 1049.20L475.66 1649.20M-181.33 1049.20L503.51 1649.20M-153.48 1049.20L531.36 1649.20M-125.63 1049.20L559.21 1649.20M-97.78 1049.20L587.06 1649.20M-69.93 1049.20L614.91 1649.20M-42.08 1049.20L642.76 1649.20M-14.23 1049.20L670.61 1649.20M13.62 1049.20L698.46 1649.20M41.47 1049.20L726.31 1649.20M69.32 1049.20L754.16 1649.20M97.17 1049.20L782.01 1649.20M125.02 1049.20L809.86 1649.20M152.87 1049.20L837.71 1649.20M180.72 1049.20L865.56 1649.20M208.57 1049.20L893.41 1649.20M236.42 1049.20L921.26 1649.20M264.27 1049.20L949.11 1649.20M292.12 1049.20L976.96 1649.20M319.97 1049.20L1004.81 1649.20M347.82 1049.20L1032.66 1649.20M375.67 1049.20L1060.51 1649.20M403.52 1049.20L1088.36 1649.20M431.37 1049.20L1116.21 1649.20M459.22 1049.20L1144.06 1649.20M487.07 1049.20L1171.91 1649.20M514.92 1049.20L1199.76 1649.20M542.77 1049.20L1227.61 1649.20M570.62 1049.20L1255.46 1649.20M598.47 1049.20L1283.31 1649.20M626.32 1049.20L1311.16 1649.20M654.17 1049.20L1339.01 1649.20M682.02 1049.20L1366.86 1649.20M709.87 1049.20L1394.71 1649.20M737.72 1049.20L1422.56 1649.20" stroke="#000" stroke-width="3.65" fill="none"/></g>
<line x1="528.20" y1="1719.30" x2="697.50" y2="1719.30" stroke="#000" stroke-width="3.4" stroke-linecap="butt"/>
<line x1="528.20" y1="1649.20" x2="697.50" y2="1649.20" stroke="#000" stroke-width="3.4" stroke-linecap="butt"/>
<rect x="529.90" y="1050.90" width="165.90" height="719.50" fill="none" stroke="#000" stroke-width="3.4" />
<rect x="803.50" y="1702.70" width="167.40" height="67.70" fill="#808080" stroke="none" stroke-width="0" />
<rect x="807.80" y="1705.30" width="158.80" height="62.50" fill="none" stroke="#929292" stroke-width="1.6" />
<g clip-path="url(#c6)"><rect x="803.50" y="1617.00" width="167.40" height="85.70" fill="#fff"/><path d="M768.82 1598.40L781.32 1587.60L793.82 1598.40L781.32 1609.20ZM768.82 1624.20L781.32 1613.40L793.82 1624.20L781.32 1635.00ZM768.82 1650.00L781.32 1639.20L793.82 1650.00L781.32 1660.80ZM768.82 1675.80L781.32 1665.00L793.82 1675.80L781.32 1686.60ZM768.82 1701.60L781.32 1690.80L793.82 1701.60L781.32 1712.40ZM768.82 1727.40L781.32 1716.60L793.82 1727.40L781.32 1738.20ZM798.58 1598.40L811.08 1587.60L823.58 1598.40L811.08 1609.20ZM798.58 1624.20L811.08 1613.40L823.58 1624.20L811.08 1635.00ZM798.58 1650.00L811.08 1639.20L823.58 1650.00L811.08 1660.80ZM798.58 1675.80L811.08 1665.00L823.58 1675.80L811.08 1686.60ZM798.58 1701.60L811.08 1690.80L823.58 1701.60L811.08 1712.40ZM798.58 1727.40L811.08 1716.60L823.58 1727.40L811.08 1738.20ZM828.34 1598.40L840.84 1587.60L853.34 1598.40L840.84 1609.20ZM828.34 1624.20L840.84 1613.40L853.34 1624.20L840.84 1635.00ZM828.34 1650.00L840.84 1639.20L853.34 1650.00L840.84 1660.80ZM828.34 1675.80L840.84 1665.00L853.34 1675.80L840.84 1686.60ZM828.34 1701.60L840.84 1690.80L853.34 1701.60L840.84 1712.40ZM828.34 1727.40L840.84 1716.60L853.34 1727.40L840.84 1738.20ZM858.10 1598.40L870.60 1587.60L883.10 1598.40L870.60 1609.20ZM858.10 1624.20L870.60 1613.40L883.10 1624.20L870.60 1635.00ZM858.10 1650.00L870.60 1639.20L883.10 1650.00L870.60 1660.80ZM858.10 1675.80L870.60 1665.00L883.10 1675.80L870.60 1686.60ZM858.10 1701.60L870.60 1690.80L883.10 1701.60L870.60 1712.40ZM858.10 1727.40L870.60 1716.60L883.10 1727.40L870.60 1738.20ZM887.86 1598.40L900.36 1587.60L912.86 1598.40L900.36 1609.20ZM887.86 1624.20L900.36 1613.40L912.86 1624.20L900.36 1635.00ZM887.86 1650.00L900.36 1639.20L912.86 1650.00L900.36 1660.80ZM887.86 1675.80L900.36 1665.00L912.86 1675.80L900.36 1686.60ZM887.86 1701.60L900.36 1690.80L912.86 1701.60L900.36 1712.40ZM887.86 1727.40L900.36 1716.60L912.86 1727.40L900.36 1738.20ZM917.62 1598.40L930.12 1587.60L942.62 1598.40L930.12 1609.20ZM917.62 1624.20L930.12 1613.40L942.62 1624.20L930.12 1635.00ZM917.62 1650.00L930.12 1639.20L942.62 1650.00L930.12 1660.80ZM917.62 1675.80L930.12 1665.00L942.62 1675.80L930.12 1686.60ZM917.62 1701.60L930.12 1690.80L942.62 1701.60L930.12 1712.40ZM917.62 1727.40L930.12 1716.60L942.62 1727.40L930.12 1738.20ZM947.38 1598.40L959.88 1587.60L972.38 1598.40L959.88 1609.20ZM947.38 1624.20L959.88 1613.40L972.38 1624.20L959.88 1635.00ZM947.38 1650.00L959.88 1639.20L972.38 1650.00L959.88 1660.80ZM947.38 1675.80L959.88 1665.00L972.38 1675.80L959.88 1686.60ZM947.38 1701.60L959.88 1690.80L972.38 1701.60L959.88 1712.40ZM947.38 1727.40L959.88 1716.60L972.38 1727.40L959.88 1738.20ZM977.14 1598.40L989.64 1587.60L1002.14 1598.40L989.64 1609.20ZM977.14 1624.20L989.64 1613.40L1002.14 1624.20L989.64 1635.00ZM977.14 1650.00L989.64 1639.20L1002.14 1650.00L989.64 1660.80ZM977.14 1675.80L989.64 1665.00L1002.14 1675.80L989.64 1686.60ZM977.14 1701.60L989.64 1690.80L1002.14 1701.60L989.64 1712.40ZM977.14 1727.40L989.64 1716.60L1002.14 1727.40L989.64 1738.20Z" fill="#000"/></g>
<g clip-path="url(#c7)"><rect x="803.50" y="1049.20" width="167.40" height="567.80" fill="#fff"/><path d="M102.57 1049.20L750.66 1617.00M130.42 1049.20L778.51 1617.00M158.27 1049.20L806.36 1617.00M186.12 1049.20L834.21 1617.00M213.97 1049.20L862.06 1617.00M241.82 1049.20L889.91 1617.00M269.67 1049.20L917.76 1617.00M297.52 1049.20L945.61 1617.00M325.37 1049.20L973.46 1617.00M353.22 1049.20L1001.31 1617.00M381.07 1049.20L1029.16 1617.00M408.92 1049.20L1057.01 1617.00M436.77 1049.20L1084.86 1617.00M464.62 1049.20L1112.71 1617.00M492.47 1049.20L1140.56 1617.00M520.32 1049.20L1168.41 1617.00M548.17 1049.20L1196.26 1617.00M576.02 1049.20L1224.11 1617.00M603.87 1049.20L1251.96 1617.00M631.72 1049.20L1279.81 1617.00M659.57 1049.20L1307.66 1617.00M687.42 1049.20L1335.51 1617.00M715.27 1049.20L1363.36 1617.00M743.12 1049.20L1391.21 1617.00M770.97 1049.20L1419.06 1617.00M798.82 1049.20L1446.91 1617.00M826.67 1049.20L1474.76 1617.00M854.52 1049.20L1502.61 1617.00M882.37 1049.20L1530.46 1617.00M910.22 1049.20L1558.31 1617.00M938.07 1049.20L1586.16 1617.00M965.92 1049.20L1614.01 1617.00M993.77 1049.20L1641.86 1617.00M1021.62 1049.20L1669.71 1617.00" stroke="#000" stroke-width="3.65" fill="none"/></g>
<line x1="803.50" y1="1702.70" x2="970.90" y2="1702.70" stroke="#000" stroke-width="3.4" stroke-linecap="butt"/>
<line x1="803.50" y1="1617.00" x2="970.90" y2="1617.00" stroke="#000" stroke-width="3.4" stroke-linecap="butt"/>
<rect x="805.20" y="1050.90" width="164.00" height="719.50" fill="none" stroke="#000" stroke-width="3.4" />
<rect x="1077.20" y="1720.00" width="167.20" height="50.40" fill="#808080" stroke="none" stroke-width="0" />
<rect x="1081.50" y="1722.60" width="158.60" height="45.20" fill="none" stroke="#929292" stroke-width="1.6" />
<g clip-path="url(#c8)"><rect x="1077.20" y="1646.60" width="167.20" height="73.40" fill="#fff"/><path d="M1036.66 1624.20L1049.16 1613.40L1061.66 1624.20L1049.16 1635.00ZM1036.66 1650.00L1049.16 1639.20L1061.66 1650.00L1049.16 1660.80ZM1036.66 1675.80L1049.16 1665.00L1061.66 1675.80L1049.16 1686.60ZM1036.66 1701.60L1049.16 1690.80L1061.66 1701.60L1049.16 1712.40ZM1036.66 1727.40L1049.16 1716.60L1061.66 1727.40L1049.16 1738.20ZM1036.66 1753.20L1049.16 1742.40L1061.66 1753.20L1049.16 1764.00ZM1066.42 1624.20L1078.92 1613.40L1091.42 1624.20L1078.92 1635.00ZM1066.42 1650.00L1078.92 1639.20L1091.42 1650.00L1078.92 1660.80ZM1066.42 1675.80L1078.92 1665.00L1091.42 1675.80L1078.92 1686.60ZM1066.42 1701.60L1078.92 1690.80L1091.42 1701.60L1078.92 1712.40ZM1066.42 1727.40L1078.92 1716.60L1091.42 1727.40L1078.92 1738.20ZM1066.42 1753.20L1078.92 1742.40L1091.42 1753.20L1078.92 1764.00ZM1096.18 1624.20L1108.68 1613.40L1121.18 1624.20L1108.68 1635.00ZM1096.18 1650.00L1108.68 1639.20L1121.18 1650.00L1108.68 1660.80ZM1096.18 1675.80L1108.68 1665.00L1121.18 1675.80L1108.68 1686.60ZM1096.18 1701.60L1108.68 1690.80L1121.18 1701.60L1108.68 1712.40ZM1096.18 1727.40L1108.68 1716.60L1121.18 1727.40L1108.68 1738.20ZM1096.18 1753.20L1108.68 1742.40L1121.18 1753.20L1108.68 1764.00ZM1125.94 1624.20L1138.44 1613.40L1150.94 1624.20L1138.44 1635.00ZM1125.94 1650.00L1138.44 1639.20L1150.94 1650.00L1138.44 1660.80ZM1125.94 1675.80L1138.44 1665.00L1150.94 1675.80L1138.44 1686.60ZM1125.94 1701.60L1138.44 1690.80L1150.94 1701.60L1138.44 1712.40ZM1125.94 1727.40L1138.44 1716.60L1150.94 1727.40L1138.44 1738.20ZM1125.94 1753.20L1138.44 1742.40L1150.94 1753.20L1138.44 1764.00ZM1155.70 1624.20L1168.20 1613.40L1180.70 1624.20L1168.20 1635.00ZM1155.70 1650.00L1168.20 1639.20L1180.70 1650.00L1168.20 1660.80ZM1155.70 1675.80L1168.20 1665.00L1180.70 1675.80L1168.20 1686.60ZM1155.70 1701.60L1168.20 1690.80L1180.70 1701.60L1168.20 1712.40ZM1155.70 1727.40L1168.20 1716.60L1180.70 1727.40L1168.20 1738.20ZM1155.70 1753.20L1168.20 1742.40L1180.70 1753.20L1168.20 1764.00ZM1185.46 1624.20L1197.96 1613.40L1210.46 1624.20L1197.96 1635.00ZM1185.46 1650.00L1197.96 1639.20L1210.46 1650.00L1197.96 1660.80ZM1185.46 1675.80L1197.96 1665.00L1210.46 1675.80L1197.96 1686.60ZM1185.46 1701.60L1197.96 1690.80L1210.46 1701.60L1197.96 1712.40ZM1185.46 1727.40L1197.96 1716.60L1210.46 1727.40L1197.96 1738.20ZM1185.46 1753.20L1197.96 1742.40L1210.46 1753.20L1197.96 1764.00ZM1215.22 1624.20L1227.72 1613.40L1240.22 1624.20L1227.72 1635.00ZM1215.22 1650.00L1227.72 1639.20L1240.22 1650.00L1227.72 1660.80ZM1215.22 1675.80L1227.72 1665.00L1240.22 1675.80L1227.72 1686.60ZM1215.22 1701.60L1227.72 1690.80L1240.22 1701.60L1227.72 1712.40ZM1215.22 1727.40L1227.72 1716.60L1240.22 1727.40L1227.72 1738.20ZM1215.22 1753.20L1227.72 1742.40L1240.22 1753.20L1227.72 1764.00ZM1244.98 1624.20L1257.48 1613.40L1269.98 1624.20L1257.48 1635.00ZM1244.98 1650.00L1257.48 1639.20L1269.98 1650.00L1257.48 1660.80ZM1244.98 1675.80L1257.48 1665.00L1269.98 1675.80L1257.48 1686.60ZM1244.98 1701.60L1257.48 1690.80L1269.98 1701.60L1257.48 1712.40ZM1244.98 1727.40L1257.48 1716.60L1269.98 1727.40L1257.48 1738.20ZM1244.98 1753.20L1257.48 1742.40L1269.98 1753.20L1257.48 1764.00Z" fill="#000"/></g>
<g clip-path="url(#c9)"><rect x="1077.20" y="1049.20" width="167.20" height="597.40" fill="#fff"/><path d="M344.72 1049.20L1026.59 1646.60M372.57 1049.20L1054.44 1646.60M400.42 1049.20L1082.29 1646.60M428.27 1049.20L1110.14 1646.60M456.12 1049.20L1137.99 1646.60M483.97 1049.20L1165.84 1646.60M511.82 1049.20L1193.69 1646.60M539.67 1049.20L1221.54 1646.60M567.52 1049.20L1249.39 1646.60M595.37 1049.20L1277.24 1646.60M623.22 1049.20L1305.09 1646.60M651.07 1049.20L1332.94 1646.60M678.92 1049.20L1360.79 1646.60M706.77 1049.20L1388.64 1646.60M734.62 1049.20L1416.49 1646.60M762.47 1049.20L1444.34 1646.60M790.32 1049.20L1472.19 1646.60M818.17 1049.20L1500.04 1646.60M846.02 1049.20L1527.89 1646.60M873.87 1049.20L1555.74 1646.60M901.72 1049.20L1583.59 1646.60M929.57 1049.20L1611.44 1646.60M957.42 1049.20L1639.29 1646.60M985.27 1049.20L1667.14 1646.60M1013.12 1049.20L1694.99 1646.60M1040.97 1049.20L1722.84 1646.60M1068.82 1049.20L1750.69 1646.60M1096.67 1049.20L1778.54 1646.60M1124.52 1049.20L1806.39 1646.60M1152.37 1049.20L1834.24 1646.60M1180.22 1049.20L1862.09 1646.60M1208.07 1049.20L1889.94 1646.60M1235.92 1049.20L1917.79 1646.60M1263.77 1049.20L1945.64 1646.60M1291.62 1049.20L1973.49 1646.60" stroke="#000" stroke-width="3.65" fill="none"/></g>
<line x1="1077.20" y1="1720.00" x2="1244.40" y2="1720.00" stroke="#000" stroke-width="3.4" stroke-linecap="butt"/>
<line x1="1077.20" y1="1646.60" x2="1244.40" y2="1646.60" stroke="#000" stroke-width="3.4" stroke-linecap="butt"/>
<rect x="1078.90" y="1050.90" width="163.80" height="719.50" fill="none" stroke="#000" stroke-width="3.4" />
<line x1="197.30" y1="906.20" x2="1288.90" y2="906.20" stroke="#000" stroke-width="3.6" stroke-linecap="square"/>
<line x1="1288.90" y1="906.20" x2="1288.90" y2="1770.40" stroke="#000" stroke-width="3.7" stroke-linecap="square"/>
<line x1="197.20" y1="1770.40" x2="1288.90" y2="1770.40" stroke="#000" stroke-width="3.8" stroke-linecap="butt"/>
<line x1="212.60" y1="906.20" x2="212.60" y2="1770.40" stroke="#000" stroke-width="3.7" stroke-linecap="butt"/>
<line x1="197.20" y1="1770.40" x2="212.60" y2="1770.40" stroke="#000" stroke-width="3.5" stroke-linecap="butt"/>
<text x="148.80" y="1783.40" font-family="&quot;Liberation Sans&quot;, sans-serif" font-size="41.50" font-weight="bold" textLength="26.20" lengthAdjust="spacingAndGlyphs">0</text>
<line x1="197.20" y1="1626.37" x2="212.60" y2="1626.37" stroke="#000" stroke-width="3.5" stroke-linecap="butt"/>
<text x="122.60" y="1639.37" font-family="&quot;Liberation Sans&quot;, sans-serif" font-size="41.50" font-weight="bold" textLength="26.20" lengthAdjust="spacingAndGlyphs">2</text>
<text x="148.80" y="1639.37" font-family="&quot;Liberation Sans&quot;, sans-serif" font-size="41.50" font-weight="bold" textLength="26.20" lengthAdjust="spacingAndGlyphs">0</text>
<line x1="197.20" y1="1482.33" x2="212.60" y2="1482.33" stroke="#000" stroke-width="3.5" stroke-linecap="butt"/>
<text x="122.60" y="1495.33" font-family="&quot;Liberation Sans&quot;, sans-serif" font-size="41.50" font-weight="bold" textLength="26.20" lengthAdjust="spacingAndGlyphs">4</text>
<text x="148.80" y="1495.33" font-family="&quot;Liberation Sans&quot;, sans-serif" font-size="41.50" font-weight="bold" textLength="26.20" lengthAdjust="spacingAndGlyphs">0</text>
<line x1="197.20" y1="1338.30" x2="212.60" y2="1338.30" stroke="#000" stroke-width="3.5" stroke-linecap="butt"/>
<text x="122.60" y="1351.30" font-family="&quot;Liberation Sans&quot;, sans-serif" font-size="41.50" font-weight="bold" textLength="26.20" lengthAdjust="spacingAndGlyphs">6</text>
<text x="148.80" y="1351.30" font-family="&quot;Liberation Sans&quot;, sans-serif" font-size="41.50" font-weight="bold" textLength="26.20" lengthAdjust="spacingAndGlyphs">0</text>
<line x1="197.20" y1="1194.27" x2="212.60" y2="1194.27" stroke="#000" stroke-width="3.5" stroke-linecap="butt"/>
<text x="122.60" y="1206.70" font-family="&quot;Liberation Sans&quot;, sans-serif" font-size="41.50" font-weight="bold" textLength="26.20" lengthAdjust="spacingAndGlyphs">8</text>
<text x="148.80" y="1206.70" font-family="&quot;Liberation Sans&quot;, sans-serif" font-size="41.50" font-weight="bold" textLength="26.20" lengthAdjust="spacingAndGlyphs">0</text>
<line x1="197.20" y1="1050.23" x2="212.60" y2="1050.23" stroke="#000" stroke-width="3.5" stroke-linecap="butt"/>
<path d="M805 0H524V1059C420 962 300 890 161 846V1101C271 1137 340 1180 400 1237C480 1310 545 1390 577 1466H805Z" transform="translate(96.40,1063.50) scale(0.02300,-0.02026)"/>
<text x="122.60" y="1063.50" font-family="&quot;Liberation Sans&quot;, sans-serif" font-size="41.50" font-weight="bold" textLength="26.20" lengthAdjust="spacingAndGlyphs">0</text>
<text x="148.80" y="1063.50" font-family="&quot;Liberation Sans&quot;, sans-serif" font-size="41.50" font-weight="bold" textLength="26.20" lengthAdjust="spacingAndGlyphs">0</text>
<line x1="197.20" y1="906.20" x2="212.60" y2="906.20" stroke="#000" stroke-width="3.5" stroke-linecap="butt"/>
<path d="M805 0H524V1059C420 962 300 890 161 846V1101C271 1137 340 1180 400 1237C480 1310 545 1390 577 1466H805Z" transform="translate(96.40,920.70) scale(0.02300,-0.02026)"/>
<text x="122.60" y="920.70" font-family="&quot;Liberation Sans&quot;, sans-serif" font-size="41.50" font-weight="bold" textLength="26.20" lengthAdjust="spacingAndGlyphs">2</text>
<text x="148.80" y="920.70" font-family="&quot;Liberation Sans&quot;, sans-serif" font-size="41.50" font-weight="bold" textLength="26.20" lengthAdjust="spacingAndGlyphs">0</text>
<line x1="331.40" y1="1770.40" x2="331.40" y2="1785.50" stroke="#000" stroke-width="3.6" stroke-linecap="butt"/>
<line x1="616.20" y1="1770.40" x2="616.20" y2="1785.50" stroke="#000" stroke-width="3.6" stroke-linecap="butt"/>
<line x1="889.10" y1="1770.40" x2="889.10" y2="1785.50" stroke="#000" stroke-width="3.6" stroke-linecap="butt"/>
<line x1="1166.20" y1="1770.40" x2="1166.20" y2="1785.50" stroke="#000" stroke-width="3.6" stroke-linecap="butt"/>
<text id="t_B" x="226.92" y="944.29" font-family="&quot;Liberation Sans&quot;, sans-serif" font-size="28.05" font-weight="bold" font-style="normal" xml:space="preserve" textLength="19.90" lengthAdjust="spacingAndGlyphs">B</text>
<text id="t_lpal" x="583.14" y="942.93" font-family="&quot;Liberation Sans&quot;, sans-serif" font-size="24.32" font-weight="normal" font-style="italic" xml:space="preserve" textLength="111.83" lengthAdjust="spacingAndGlyphs">Palythine</text>
<text id="t_lshi" x="760.18" y="941.95" font-family="&quot;Liberation Sans&quot;, sans-serif" font-size="25.48" font-weight="normal" font-style="italic" xml:space="preserve" textLength="112.42" lengthAdjust="spacingAndGlyphs">Shinorine</text>
<text id="t_lpor" x="941.56" y="941.17" font-family="&quot;Liberation Sans&quot;, sans-serif" font-size="24.58" font-weight="normal" font-style="italic" xml:space="preserve" textLength="151.95" lengthAdjust="spacingAndGlyphs">Porphyra334</text>
<text id="t_lpyl" x="1156.11" y="940.20" font-family="&quot;Liberation Sans&quot;, sans-serif" font-size="24.40" font-weight="normal" font-style="italic" xml:space="preserve" textLength="115.53" lengthAdjust="spacingAndGlyphs">Palythinol</text>
<text id="t_x1" x="309.48" y="1820.70" font-family="&quot;Liberation Sans&quot;, sans-serif" font-size="34.95" font-weight="bold" font-style="normal" xml:space="preserve" textLength="63.07" lengthAdjust="spacingAndGlyphs">2°C</text>
<text id="t_x2" x="593.57" y="1820.70" font-family="&quot;Liberation Sans&quot;, sans-serif" font-size="34.95" font-weight="bold" font-style="normal" xml:space="preserve" textLength="64.25" lengthAdjust="spacingAndGlyphs">8°C</text>
<text id="t_x3" x="864.81" y="1820.70" font-family="&quot;Liberation Sans&quot;, sans-serif" font-size="34.95" font-weight="bold" font-style="normal" xml:space="preserve" textLength="64.03" lengthAdjust="spacingAndGlyphs">2°C</text>
<text id="t_x4" x="1144.91" y="1819.00" font-family="&quot;Liberation Sans&quot;, sans-serif" font-size="34.15" font-weight="bold" font-style="normal" xml:space="preserve" textLength="63.61" lengthAdjust="spacingAndGlyphs">8°C</text>
<text id="t_bd3" x="424.02" y="1877.05" font-family="&quot;Liberation Sans&quot;, sans-serif" font-size="31.21" font-weight="bold" font-style="normal" xml:space="preserve" textLength="125.64" lengthAdjust="spacingAndGlyphs">Day - 3</text>
<text id="t_bd5" x="983.22" y="1883.29" font-family="&quot;Liberation Sans&quot;, sans-serif" font-size="32.29" font-weight="bold" font-style="normal" xml:space="preserve" textLength="125.66" lengthAdjust="spacingAndGlyphs">Day - 5</text>
<rect x="546.80" y="922.00" width="26.40" height="22.40" fill="#8e8e8e" stroke="#000" stroke-width="3.2" rx="1.5"/>
<rect x="549.60" y="924.80" width="20.80" height="16.80" fill="none" stroke="#a6a6a6" stroke-width="1.2" />
<rect x="715.90" y="920.60" width="28.50" height="24.20" fill="#000" stroke="#000" stroke-width="3.2" rx="1.5"/>
<polygon points="718,929.5 722,933 732.5,922.4 742.2,922.4 742.2,943.3 732.5,943.3 722,935.5 718,938.5" fill="#fff"/>
<rect x="903.80" y="918.50" width="28.50" height="24.80" fill="#fff" stroke="#000" stroke-width="3.2" rx="1.5"/>
<clipPath id="lpc"><rect x="903.8" y="918.5" width="28.5" height="24.8"/></clipPath>
<g clip-path="url(#lpc)"><line x1="903" y1="925.5" x2="922" y2="944.5" stroke="#000" stroke-width="3.8"/><polygon points="918.5,918 933,918 933,932.5" fill="#000"/><line x1="919" y1="918.6" x2="933" y2="931.8" stroke="#000" stroke-width="2.2"/><circle cx="928.5" cy="922.6" r="1.3" fill="#fff"/></g>
<rect x="1121.00" y="918.80" width="27.60" height="24.40" fill="#000" stroke="#000" stroke-width="3.2" rx="1.5"/>
<g fill="#686868"><ellipse cx="1130" cy="923.4" rx="5.6" ry="2.4"/><circle cx="1126" cy="929.6" r="2"/><circle cx="1126.1" cy="940" r="2"/><ellipse cx="1137.8" cy="934.4" rx="7.4" ry="7.2"/></g><circle cx="1137.6" cy="934.6" r="3.5" fill="#585858"/><circle cx="1144.6" cy="922.9" r="1.6" fill="#3c3c3c"/>
<polyline points="338.80,1829.70 338.80,1871.00 411.50,1871.00" fill="none" stroke="#000" stroke-width="3.6" stroke-linejoin="round" stroke-linecap="round"/>
<polyline points="552.30,1868.30 621.70,1868.30 621.70,1829.70" fill="none" stroke="#000" stroke-width="3.6" stroke-linejoin="round" stroke-linecap="round"/>
<polyline points="900.80,1836.50 900.80,1877.80 972.50,1877.80" fill="none" stroke="#000" stroke-width="3.6" stroke-linejoin="round" stroke-linecap="round"/>
<polyline points="1114.40,1874.50 1183.40,1874.50 1183.40,1835.70" fill="none" stroke="#000" stroke-width="3.6" stroke-linejoin="round" stroke-linecap="round"/>
<text transform="translate(50.05,1783.70) rotate(-90)" font-family="&quot;Liberation Sans&quot;, sans-serif" font-size="57.068853428247095" font-weight="bold" textLength="892.11249701843" lengthAdjust="spacingAndGlyphs" xml:space="preserve">% Mycosporine - like amino acid (MAAs)</text>
</svg></body></html>
